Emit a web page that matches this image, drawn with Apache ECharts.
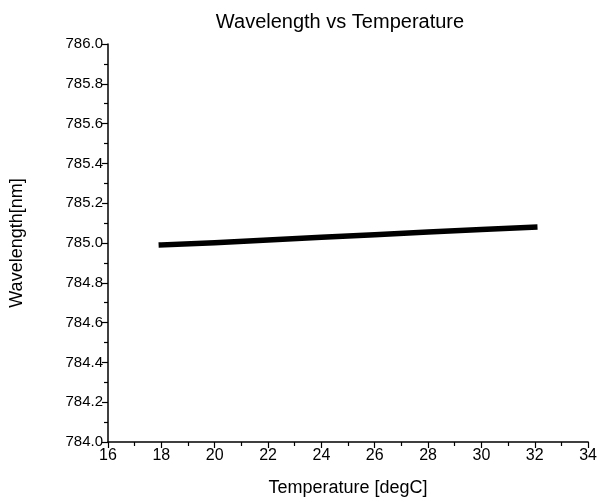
<!DOCTYPE html>
<html><head><meta charset="utf-8">
<script src="https://cdn.jsdelivr.net/npm/echarts@6/dist/echarts.min.js"></script>
<style>html,body{margin:0;padding:0;background:#fff}#c{width:600px;height:502px}</style>
</head><body><div id="c"></div>
<script>
const temperature = [18, 20, 22, 24, 26, 28, 30, 32];
const wavelength = [784.990, 785.001, 785.015, 785.029, 785.042, 785.055, 785.068, 785.080];
const chart = echarts.init(document.getElementById('c'));
const F = '"Liberation Sans", Arial, sans-serif';
chart.setOption({
  animation: false,
  title: { text: 'Wavelength vs Temperature', left: 335, textAlign: 'center', top: 7,
    textStyle: { fontFamily: F, fontSize: 20, fontWeight: 'normal', color: '#000' } },
  grid: { left: 101, right: 9, top: 44, bottom: 58, containLabel: false },
  xAxis: { type: 'value', min: 16, max: 34, interval: 2,
    name: 'Temperature [degC]', nameLocation: 'middle', nameGap: 37,
    nameTextStyle: { fontFamily: F, fontSize: 18, color: '#000' },
    axisLine: { show: true, lineStyle: { color: '#000', width: 1.5 } },
    axisTick: { show: true, inside: false, length: 6, lineStyle: { color: '#000', width: 1.2 } },
    minorTick: { show: true, splitNumber: 2, length: 4, lineStyle: { color: '#000', width: 1.2 } },
    splitLine: { show: false },
    axisLabel: { fontFamily: F, fontSize: 16, color: '#000', margin: 6 } },
  yAxis: { type: 'value', min: 784, max: 786, interval: 0.2,
    name: 'Wavelength[nm]', nameLocation: 'middle', nameGap: 82,
    nameTextStyle: { fontFamily: F, fontSize: 18, color: '#000' },
    axisLine: { show: true, lineStyle: { color: '#000', width: 1.5 } },
    axisTick: { show: true, inside: false, length: 6, lineStyle: { color: '#000', width: 1.2 } },
    minorTick: { show: true, splitNumber: 2, length: 4, lineStyle: { color: '#000', width: 1.2 } },
    splitLine: { show: false },
    axisLabel: { fontFamily: F, fontSize: 15, color: '#000', margin: 5,
      formatter: v => v.toFixed(1) } },
  series: [{ type: 'line', data: temperature.map((t, i) => [t, wavelength[i]]),
    showSymbol: false, smooth: false, lineStyle: { color: '#000', width: 5.5, cap: 'square', join: 'round' } }]
});
</script></body></html>
